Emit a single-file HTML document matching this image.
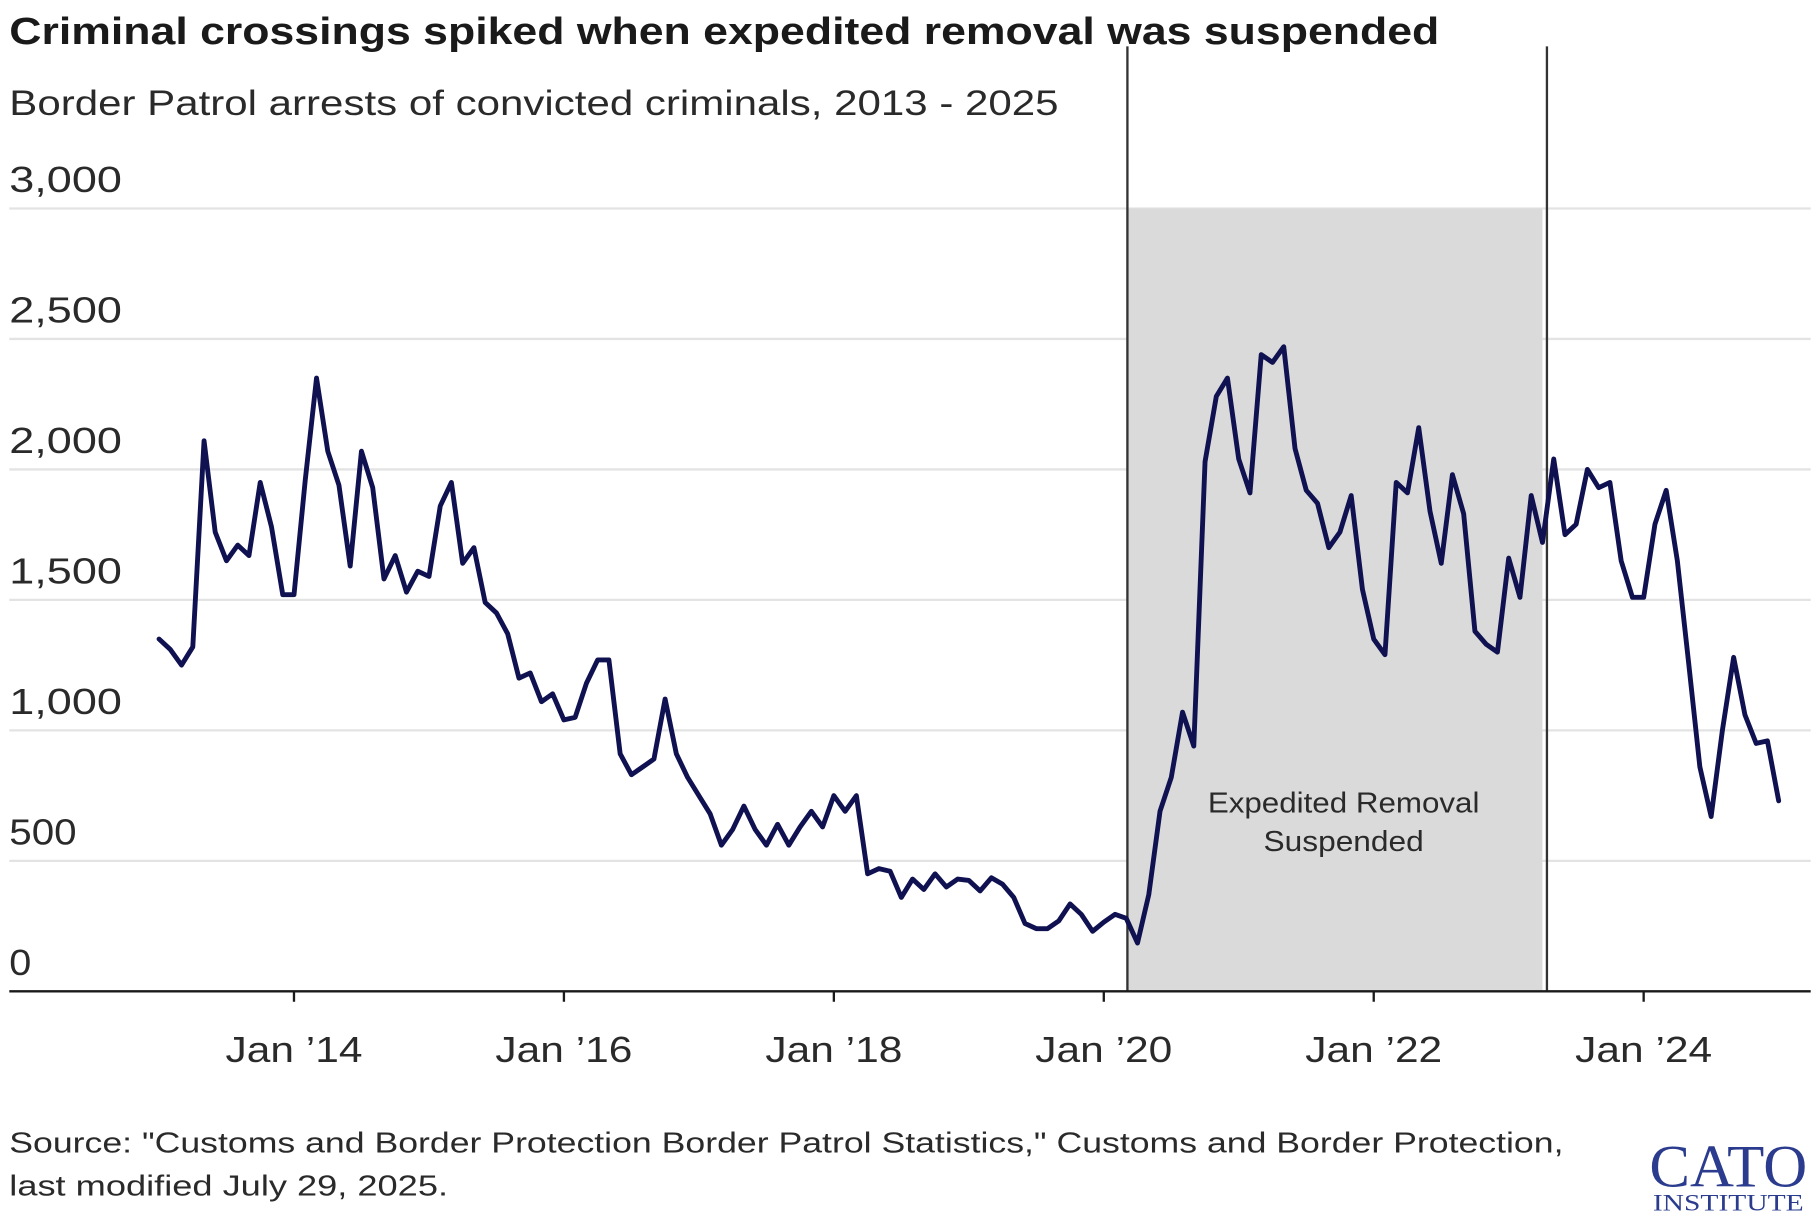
<!DOCTYPE html>
<html><head><meta charset="utf-8"><style>html,body{margin:0;padding:0;background:#fff}svg{display:block}</style></head>
<body>
<svg id="chart" width="1820" height="1220" viewBox="0 0 1568 1051" preserveAspectRatio="none" xmlns="http://www.w3.org/2000/svg" font-family="'Liberation Sans', sans-serif">
<text x="8" y="38" font-size="33" font-weight="bold" fill="#1a1a1a" textLength="1232" lengthAdjust="spacingAndGlyphs">Criminal crossings spiked when expedited removal was suspended</text>
<text x="8" y="99" font-size="30" fill="#2a2a2a" textLength="904" lengthAdjust="spacingAndGlyphs">Border Patrol arrests of convicted criminals, 2013 - 2025</text>
<g id="grid"></g>
<g id="shade"></g>
<g id="series"></g>
<g id="axis"></g>
<text x="8" y="993" font-size="25" fill="#2a2a2a" textLength="1339" lengthAdjust="spacingAndGlyphs">Source: "Customs and Border Protection Border Patrol Statistics," Customs and Border Protection,</text>
<text x="8" y="1030" font-size="25" fill="#2a2a2a" textLength="378" lengthAdjust="spacingAndGlyphs">last modified July 29, 2025.</text>
<g fill="#2b3c8e" font-family="'Liberation Serif', serif">
<text x="1421" y="1022" font-size="52" textLength="136" lengthAdjust="spacingAndGlyphs">CATO</text>
<text x="1424" y="1043" font-size="20" textLength="130" lengthAdjust="spacingAndGlyphs">INSTITUTE</text>
</g>
</svg>
<script>
const values = [1350,1310,1250,1320,2110,1760,1650,1710,1670,1950,1780,1520,
1520,1960,2350,2070,1940,1630,2070,1930,1580,1670,1530,1610,
1590,1860,1950,1640,1700,1490,1450,1370,1200,1220,1110,1140,
1040,1050,1180,1270,1270,910,830,860,890,1120,910,820,
750,680,560,620,710,620,560,640,560,630,690,630,
750,690,750,450,470,460,360,430,390,450,400,430,
425,385,435,410,360,260,240,240,270,335,295,230,
265,295,280,185,370,690,820,1070,940,2030,2280,2350,
2040,1910,2440,2410,2470,2080,1920,1870,1700,1760,1900,1540,
1350,1290,1950,1910,2160,1840,1640,1980,1830,1380,1330,1300,
1660,1510,1900,1720,2040,1750,1790,2000,1930,1950,1650,1510,
1510,1790,1920,1650,1260,860,670,1000,1280,1060,950,960,
730];
const startYear = 2013;
const yTicks = [0,500,1000,1500,2000,2500,3000];
const yTickLabels = ["0","500","1,000","1,500","2,000","2,500","3,000"];
const xTickYears = [2014,2016,2018,2020,2022,2024];
const xTickLabels = ["Jan \u201914","Jan \u201916","Jan \u201918","Jan \u201920","Jan \u201922","Jan \u201924"];
const shadeStart = [2020, 2];
const shadeEnd = [2023, 3];
const markerLines = [[2020,2.1],[2023,3.4]];

const NS = "http://www.w3.org/2000/svg";
const X0 = 137, MONTH = 9.69, Y0 = 854, PER = 112.4/500;
const xOfMonth = m => X0 + m*MONTH;
const xOfDate = (y,m) => xOfMonth((y-startYear)*12+m);
const yOf = v => Y0 - v*PER;
function mk(tag, attrs, parent){const e=document.createElementNS(NS,tag);for(const k in attrs)e.setAttribute(k,attrs[k]);parent.appendChild(e);return e;}

const grid=document.getElementById('grid');
yTicks.forEach((t,i)=>{
  if(t>0){const l=mk('line',{x1:8,x2:1560,y1:yOf(t),y2:yOf(t),stroke:'#e3e3e3','stroke-width':2},grid);
  
  }
  const s=yTickLabels[i];
  const tx=mk('text',{x:8,y:yOf(t)-14,'font-size':31,fill:'#2a2a2a',textLength:(s.length*19.4).toFixed(0),lengthAdjust:'spacingAndGlyphs'},grid);
  tx.textContent=s;
  
  
});

const shade=document.getElementById('shade');
const r=mk('rect',{x:xOfDate(...shadeStart),y:yOf(3000),width:xOfDate(...shadeEnd)-xOfDate(...shadeStart),height:yOf(0)-yOf(3000),fill:'#dadada'},shade);


markerLines.forEach(([y,m])=>{
  const l=mk('line',{x1:xOfDate(y,m),x2:xOfDate(y,m),y1:40,y2:Y0,stroke:'#333','stroke-width':2},shade);
  
  
});
const midX=(xOfDate(...shadeStart)+xOfDate(...shadeEnd))/2+8;
[["Expedited Removal",700,234],["Suspended",733,138]].forEach(([s,yy,w])=>{
  const t=mk('text',{x:midX,y:yy,'font-size':25,fill:'#2a2a2a','text-anchor':'middle',textLength:w,lengthAdjust:'spacingAndGlyphs'},shade);
  t.textContent=s;
  
  
});

const series=document.getElementById('series');
const p=mk('path',{d:values.map((v,i)=>(i?'L':'M')+xOfMonth(i).toFixed(1)+','+yOf(v).toFixed(1)).join(''),fill:'none',stroke:'#0f1150','stroke-width':4.2,'stroke-linejoin':'round','stroke-linecap':'round'},series);



const axis=document.getElementById('axis');
const base=mk('line',{x1:8,x2:1560,y1:Y0,y2:Y0,stroke:'#1a1a1a','stroke-width':2},axis);


xTickYears.forEach((yr,i)=>{
  const x=xOfDate(yr,0);
  const tk=mk('line',{x1:x,x2:x,y1:Y0,y2:Y0+9,stroke:'#1a1a1a','stroke-width':2},axis);
  
  
  const t=mk('text',{x:x,y:915,'font-size':31,fill:'#2a2a2a','text-anchor':'middle',textLength:118,lengthAdjust:'spacingAndGlyphs'},axis);
  t.textContent=xTickLabels[i];
  
  
});
</script>
</body></html>
